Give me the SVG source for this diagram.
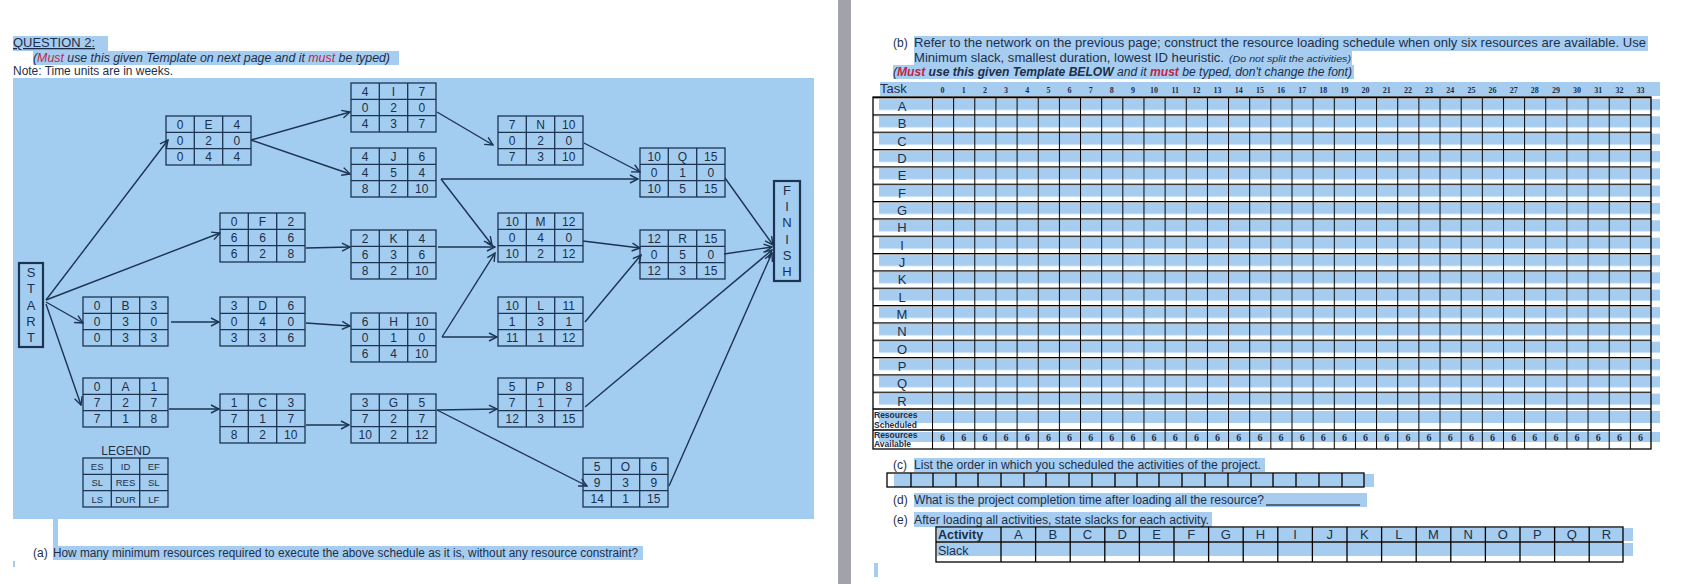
<svg xmlns="http://www.w3.org/2000/svg" xmlns:xlink="http://www.w3.org/1999/xlink" width="1687" height="584" viewBox="0 0 1687 584">
<style>
.t{font-family:"Liberation Sans Narrow","Liberation Sans",Arial,sans-serif;fill:#1c2f4a}
.nv{font-family:"Liberation Sans Narrow","Liberation Sans",Arial,sans-serif;font-size:12px;fill:#1c2f4a;text-anchor:middle}
.cell{fill:none;stroke:#1c3352;stroke-width:1.3}
.ar{fill:none;stroke:#1c3352;stroke-width:1.4;marker-end:url(#ah)}
.hl{fill:#a6cdf0}
.lab{font-family:"Liberation Sans Narrow","Liberation Sans",Arial,sans-serif;font-size:13px;fill:#1c2f4a;text-anchor:middle}
.hn{font-family:"Liberation Serif",serif;font-size:8px;font-weight:bold;fill:#1c2f4a;text-anchor:middle}
.gl{stroke:#000;stroke-width:1.3;fill:none}
</style>
<defs>
<marker id="ah" markerWidth="10" markerHeight="10" refX="9" refY="5" orient="auto" markerUnits="userSpaceOnUse">
<path d="M1,1 L9,5 L1,9" fill="none" stroke="#1c3352" stroke-width="1.4"/>
</marker>
<g id="box"><rect class="cell" x="0" y="0" width="85" height="49"/><path class="cell" d="M28.3,0V49M56.7,0V49M0,16.3H85M0,32.7H85"/></g>
<pattern id="rowp" patternUnits="userSpaceOnUse" x="873" y="97" width="30" height="17.333"><rect x="0" y="2" width="30" height="11" fill="#a6cdf0"/></pattern>
<pattern id="hp" patternUnits="userSpaceOnUse" x="873" y="97" width="30" height="17.333"><rect x="0" y="0" width="30" height="1.3" fill="#000"/></pattern>
<pattern id="vp" patternUnits="userSpaceOnUse" x="932" y="97" width="21.147" height="30"><rect x="0" y="0" width="1" height="30" fill="#000"/></pattern>
</defs>
<rect width="1687" height="584" fill="#fff"/>
<!-- left page -->
<rect x="13" y="78" width="801" height="441" fill="#a3cdf0"/>
<rect x="53" y="519" width="5" height="28" fill="#a3cdf0"/>
<rect x="13" y="561" width="2" height="6" fill="#a3cdf0"/>
<rect class="hl" x="13" y="36" width="95" height="15"/>
<rect class="hl" x="33" y="51" width="366" height="14"/>
<text class="t" x="13" y="47" font-size="13" textLength="82" lengthAdjust="spacingAndGlyphs" text-decoration="underline">QUESTION 2:</text>
<text class="t" x="33" y="62" font-size="12" font-style="italic" textLength="357" lengthAdjust="spacingAndGlyphs">(<tspan fill="#c0264a">Must</tspan> use this given Template on next page and it <tspan fill="#c0264a">must</tspan> be typed)</text>
<text class="t" x="13" y="75" font-size="12" textLength="160" lengthAdjust="spacingAndGlyphs">Note: Time units are in weeks.</text>
<rect class="hl" x="53" y="546" width="590" height="14"/>
<text class="t" x="33" y="557" font-size="12">(a)</text>
<text class="t" x="53" y="557" font-size="12" textLength="585" lengthAdjust="spacingAndGlyphs">How many minimum resources required to execute the above schedule as it is, without any resource constraint?</text>

<g id="start"><rect x="19" y="263" width="24" height="84" fill="none" stroke="#1c3352" stroke-width="2.2"/>
<text class="lab" x="31"><tspan x="31" y="277">S</tspan><tspan x="31" y="293">T</tspan><tspan x="31" y="310">A</tspan><tspan x="31" y="326">R</tspan><tspan x="31" y="342">T</tspan></text></g>
<g id="finish"><rect x="774" y="181" width="26" height="100" fill="none" stroke="#1c3352" stroke-width="2.2"/>
<text class="lab" x="787"><tspan x="787" y="195">F</tspan><tspan x="787" y="211">I</tspan><tspan x="787" y="227">N</tspan><tspan x="787" y="244">I</tspan><tspan x="787" y="260">S</tspan><tspan x="787" y="276">H</tspan></text></g>

<g id="connectors">
<path class="ar" d="M46,300 L168,140"/>
<path class="ar" d="M46,300 L220,233"/>
<path class="ar" d="M46,302 L83,323"/>
<path class="ar" d="M46,304 L81,405"/>
<path class="ar" d="M251,140 L350,112"/>
<path class="ar" d="M251,140 L350,174"/>
<path class="ar" d="M437,112 L493,145"/>
<path class="ar" d="M441,179 L638,179"/>
<path class="ar" d="M441,179 L492,245"/>
<path class="ar" d="M584,143 L640,172"/>
<path class="ar" d="M306,248 L350,247"/>
<path class="ar" d="M438,247 L495,247"/>
<path class="ar" d="M583,241 L640,248"/>
<path class="ar" d="M725,178 L773,245"/>
<path class="ar" d="M724,254 L772,247"/>
<path class="ar" d="M585,322 L641,255"/>
<path class="ar" d="M585,407 L772,250"/>
<path class="ar" d="M669,486 L772,253"/>
<path class="ar" d="M442,337 L495,253"/>
<path class="ar" d="M442,337 L497,337"/>
<path class="ar" d="M171,322 L219,322"/>
<path class="ar" d="M306,323 L350,326"/>
<path class="ar" d="M169,409 L219,409"/>
<path class="ar" d="M306,425 L349,425"/>
<path class="ar" d="M437,410 L497,409"/>
<path class="ar" d="M437,410 L587,486"/>
</g>

<g id="node-E" transform="translate(166,116)"><use href="#box"/><text class="nv"><tspan x="14.2" y="12.5">0</tspan><tspan x="42.5" y="12.5">E</tspan><tspan x="70.8" y="12.5">4</tspan><tspan x="14.2" y="28.8">0</tspan><tspan x="42.5" y="28.8">2</tspan><tspan x="70.8" y="28.8">0</tspan><tspan x="14.2" y="45.1">0</tspan><tspan x="42.5" y="45.1">4</tspan><tspan x="70.8" y="45.1">4</tspan></text></g>
<g id="node-I" transform="translate(351,83)"><use href="#box"/><text class="nv"><tspan x="14.2" y="12.5">4</tspan><tspan x="42.5" y="12.5">I</tspan><tspan x="70.8" y="12.5">7</tspan><tspan x="14.2" y="28.8">0</tspan><tspan x="42.5" y="28.8">2</tspan><tspan x="70.8" y="28.8">0</tspan><tspan x="14.2" y="45.1">4</tspan><tspan x="42.5" y="45.1">3</tspan><tspan x="70.8" y="45.1">7</tspan></text></g>
<g id="node-J" transform="translate(351,148)"><use href="#box"/><text class="nv"><tspan x="14.2" y="12.5">4</tspan><tspan x="42.5" y="12.5">J</tspan><tspan x="70.8" y="12.5">6</tspan><tspan x="14.2" y="28.8">4</tspan><tspan x="42.5" y="28.8">5</tspan><tspan x="70.8" y="28.8">4</tspan><tspan x="14.2" y="45.1">8</tspan><tspan x="42.5" y="45.1">2</tspan><tspan x="70.8" y="45.1">10</tspan></text></g>
<g id="node-N" transform="translate(498,116)"><use href="#box"/><text class="nv"><tspan x="14.2" y="12.5">7</tspan><tspan x="42.5" y="12.5">N</tspan><tspan x="70.8" y="12.5">10</tspan><tspan x="14.2" y="28.8">0</tspan><tspan x="42.5" y="28.8">2</tspan><tspan x="70.8" y="28.8">0</tspan><tspan x="14.2" y="45.1">7</tspan><tspan x="42.5" y="45.1">3</tspan><tspan x="70.8" y="45.1">10</tspan></text></g>
<g id="node-Q" transform="translate(640,148)"><use href="#box"/><text class="nv"><tspan x="14.2" y="12.5">10</tspan><tspan x="42.5" y="12.5">Q</tspan><tspan x="70.8" y="12.5">15</tspan><tspan x="14.2" y="28.8">0</tspan><tspan x="42.5" y="28.8">1</tspan><tspan x="70.8" y="28.8">0</tspan><tspan x="14.2" y="45.1">10</tspan><tspan x="42.5" y="45.1">5</tspan><tspan x="70.8" y="45.1">15</tspan></text></g>
<g id="node-F" transform="translate(220,213)"><use href="#box"/><text class="nv"><tspan x="14.2" y="12.5">0</tspan><tspan x="42.5" y="12.5">F</tspan><tspan x="70.8" y="12.5">2</tspan><tspan x="14.2" y="28.8">6</tspan><tspan x="42.5" y="28.8">6</tspan><tspan x="70.8" y="28.8">6</tspan><tspan x="14.2" y="45.1">6</tspan><tspan x="42.5" y="45.1">2</tspan><tspan x="70.8" y="45.1">8</tspan></text></g>
<g id="node-K" transform="translate(351,230)"><use href="#box"/><text class="nv"><tspan x="14.2" y="12.5">2</tspan><tspan x="42.5" y="12.5">K</tspan><tspan x="70.8" y="12.5">4</tspan><tspan x="14.2" y="28.8">6</tspan><tspan x="42.5" y="28.8">3</tspan><tspan x="70.8" y="28.8">6</tspan><tspan x="14.2" y="45.1">8</tspan><tspan x="42.5" y="45.1">2</tspan><tspan x="70.8" y="45.1">10</tspan></text></g>
<g id="node-M" transform="translate(498,213)"><use href="#box"/><text class="nv"><tspan x="14.2" y="12.5">10</tspan><tspan x="42.5" y="12.5">M</tspan><tspan x="70.8" y="12.5">12</tspan><tspan x="14.2" y="28.8">0</tspan><tspan x="42.5" y="28.8">4</tspan><tspan x="70.8" y="28.8">0</tspan><tspan x="14.2" y="45.1">10</tspan><tspan x="42.5" y="45.1">2</tspan><tspan x="70.8" y="45.1">12</tspan></text></g>
<g id="node-R" transform="translate(640,230)"><use href="#box"/><text class="nv"><tspan x="14.2" y="12.5">12</tspan><tspan x="42.5" y="12.5">R</tspan><tspan x="70.8" y="12.5">15</tspan><tspan x="14.2" y="28.8">0</tspan><tspan x="42.5" y="28.8">5</tspan><tspan x="70.8" y="28.8">0</tspan><tspan x="14.2" y="45.1">12</tspan><tspan x="42.5" y="45.1">3</tspan><tspan x="70.8" y="45.1">15</tspan></text></g>
<g id="node-B" transform="translate(83,297)"><use href="#box"/><text class="nv"><tspan x="14.2" y="12.5">0</tspan><tspan x="42.5" y="12.5">B</tspan><tspan x="70.8" y="12.5">3</tspan><tspan x="14.2" y="28.8">0</tspan><tspan x="42.5" y="28.8">3</tspan><tspan x="70.8" y="28.8">0</tspan><tspan x="14.2" y="45.1">0</tspan><tspan x="42.5" y="45.1">3</tspan><tspan x="70.8" y="45.1">3</tspan></text></g>
<g id="node-D" transform="translate(220,297)"><use href="#box"/><text class="nv"><tspan x="14.2" y="12.5">3</tspan><tspan x="42.5" y="12.5">D</tspan><tspan x="70.8" y="12.5">6</tspan><tspan x="14.2" y="28.8">0</tspan><tspan x="42.5" y="28.8">4</tspan><tspan x="70.8" y="28.8">0</tspan><tspan x="14.2" y="45.1">3</tspan><tspan x="42.5" y="45.1">3</tspan><tspan x="70.8" y="45.1">6</tspan></text></g>
<g id="node-H" transform="translate(351,313)"><use href="#box"/><text class="nv"><tspan x="14.2" y="12.5">6</tspan><tspan x="42.5" y="12.5">H</tspan><tspan x="70.8" y="12.5">10</tspan><tspan x="14.2" y="28.8">0</tspan><tspan x="42.5" y="28.8">1</tspan><tspan x="70.8" y="28.8">0</tspan><tspan x="14.2" y="45.1">6</tspan><tspan x="42.5" y="45.1">4</tspan><tspan x="70.8" y="45.1">10</tspan></text></g>
<g id="node-L" transform="translate(498,297)"><use href="#box"/><text class="nv"><tspan x="14.2" y="12.5">10</tspan><tspan x="42.5" y="12.5">L</tspan><tspan x="70.8" y="12.5">11</tspan><tspan x="14.2" y="28.8">1</tspan><tspan x="42.5" y="28.8">3</tspan><tspan x="70.8" y="28.8">1</tspan><tspan x="14.2" y="45.1">11</tspan><tspan x="42.5" y="45.1">1</tspan><tspan x="70.8" y="45.1">12</tspan></text></g>
<g id="node-A" transform="translate(83,378)"><use href="#box"/><text class="nv"><tspan x="14.2" y="12.5">0</tspan><tspan x="42.5" y="12.5">A</tspan><tspan x="70.8" y="12.5">1</tspan><tspan x="14.2" y="28.8">7</tspan><tspan x="42.5" y="28.8">2</tspan><tspan x="70.8" y="28.8">7</tspan><tspan x="14.2" y="45.1">7</tspan><tspan x="42.5" y="45.1">1</tspan><tspan x="70.8" y="45.1">8</tspan></text></g>
<g id="node-C" transform="translate(220,394)"><use href="#box"/><text class="nv"><tspan x="14.2" y="12.5">1</tspan><tspan x="42.5" y="12.5">C</tspan><tspan x="70.8" y="12.5">3</tspan><tspan x="14.2" y="28.8">7</tspan><tspan x="42.5" y="28.8">1</tspan><tspan x="70.8" y="28.8">7</tspan><tspan x="14.2" y="45.1">8</tspan><tspan x="42.5" y="45.1">2</tspan><tspan x="70.8" y="45.1">10</tspan></text></g>
<g id="node-G" transform="translate(351,394)"><use href="#box"/><text class="nv"><tspan x="14.2" y="12.5">3</tspan><tspan x="42.5" y="12.5">G</tspan><tspan x="70.8" y="12.5">5</tspan><tspan x="14.2" y="28.8">7</tspan><tspan x="42.5" y="28.8">2</tspan><tspan x="70.8" y="28.8">7</tspan><tspan x="14.2" y="45.1">10</tspan><tspan x="42.5" y="45.1">2</tspan><tspan x="70.8" y="45.1">12</tspan></text></g>
<g id="node-P" transform="translate(498,378)"><use href="#box"/><text class="nv"><tspan x="14.2" y="12.5">5</tspan><tspan x="42.5" y="12.5">P</tspan><tspan x="70.8" y="12.5">8</tspan><tspan x="14.2" y="28.8">7</tspan><tspan x="42.5" y="28.8">1</tspan><tspan x="70.8" y="28.8">7</tspan><tspan x="14.2" y="45.1">12</tspan><tspan x="42.5" y="45.1">3</tspan><tspan x="70.8" y="45.1">15</tspan></text></g>
<g id="node-O" transform="translate(583,458)"><use href="#box"/><text class="nv"><tspan x="14.2" y="12.5">5</tspan><tspan x="42.5" y="12.5">O</tspan><tspan x="70.8" y="12.5">6</tspan><tspan x="14.2" y="28.8">9</tspan><tspan x="42.5" y="28.8">3</tspan><tspan x="70.8" y="28.8">9</tspan><tspan x="14.2" y="45.1">14</tspan><tspan x="42.5" y="45.1">1</tspan><tspan x="70.8" y="45.1">15</tspan></text></g>
<g id="legend"><text class="t" x="126" y="455" font-size="12" text-anchor="middle">LEGEND</text>
<g transform="translate(83,458)"><use href="#box"/><text class="nv" style="font-size:9.5px"><tspan x="14.2" y="12">ES</tspan><tspan x="42.5" y="12">ID</tspan><tspan x="70.8" y="12">EF</tspan><tspan x="14.2" y="28.3">SL</tspan><tspan x="42.5" y="28.3">RES</tspan><tspan x="70.8" y="28.3">SL</tspan><tspan x="14.2" y="44.6">LS</tspan><tspan x="42.5" y="44.6">DUR</tspan><tspan x="70.8" y="44.6">LF</tspan></text></g></g>

<!-- divider -->
<rect x="838" y="0" width="13" height="584" fill="#a2a2aa"/>

<!-- right page -->
<rect class="hl" x="914" y="36" width="734" height="15"/>
<rect class="hl" x="914" y="51" width="438" height="14"/>
<rect class="hl" x="893" y="65" width="461" height="14"/>
<text class="t" x="893" y="47" font-size="12">(b)</text>
<text class="t" x="914" y="47" font-size="13" textLength="732" lengthAdjust="spacingAndGlyphs">Refer to the network on the previous page; construct the resource loading schedule when only six resources are available. Use</text>
<text class="t" x="914" y="62" font-size="13" textLength="310" lengthAdjust="spacingAndGlyphs">Minimum slack, smallest duration, lowest ID heuristic.</text>
<text class="t" x="1229" y="62" font-size="9.5" font-style="italic" textLength="122" lengthAdjust="spacingAndGlyphs">(Do not split the activities)</text>
<text class="t" x="893" y="76" font-size="12" font-style="italic" textLength="459" lengthAdjust="spacingAndGlyphs">(<tspan fill="#c0264a" font-weight="bold">Must</tspan> <tspan font-weight="bold">use this given Template BELOW</tspan> and it <tspan fill="#c0264a" font-weight="bold">must</tspan> be typed, don't change the font)</text>

<rect class="hl" x="880" y="82" width="780" height="14"/>
<text class="t" x="880" y="93" font-size="13">Task</text>
<g id="hdr">
<text class="hn" x="942.6" y="93">0</text><text class="hn" x="963.7" y="93">1</text><text class="hn" x="984.9" y="93">2</text><text class="hn" x="1006.0" y="93">3</text><text class="hn" x="1027.2" y="93">4</text><text class="hn" x="1048.4" y="93">5</text><text class="hn" x="1069.5" y="93">6</text><text class="hn" x="1090.7" y="93">7</text><text class="hn" x="1111.8" y="93">8</text><text class="hn" x="1133.0" y="93">9</text><text class="hn" x="1154.1" y="93">10</text><text class="hn" x="1175.3" y="93">11</text><text class="hn" x="1196.4" y="93">12</text><text class="hn" x="1217.6" y="93">13</text><text class="hn" x="1238.7" y="93">14</text><text class="hn" x="1259.9" y="93">15</text><text class="hn" x="1281.0" y="93">16</text><text class="hn" x="1302.2" y="93">17</text><text class="hn" x="1323.3" y="93">18</text><text class="hn" x="1344.5" y="93">19</text><text class="hn" x="1365.6" y="93">20</text><text class="hn" x="1386.8" y="93">21</text><text class="hn" x="1407.9" y="93">22</text><text class="hn" x="1429.1" y="93">23</text><text class="hn" x="1450.2" y="93">24</text><text class="hn" x="1471.4" y="93">25</text><text class="hn" x="1492.5" y="93">26</text><text class="hn" x="1513.7" y="93">27</text><text class="hn" x="1534.8" y="93">28</text><text class="hn" x="1556.0" y="93">29</text><text class="hn" x="1577.1" y="93">30</text><text class="hn" x="1598.3" y="93">31</text><text class="hn" x="1619.4" y="93">32</text><text class="hn" x="1640.6" y="93">33</text>
</g>
<g id="schedule">
<rect x="879" y="97" width="781" height="312" fill="url(#rowp)"/>
<rect class="hl" x="879" y="411" width="781" height="12"/>
<rect class="hl" x="879" y="432" width="781" height="10"/>
<rect x="873" y="97" width="778" height="312" fill="url(#hp)"/>
<rect x="932" y="97" width="719" height="352" fill="url(#vp)"/>
<path class="gl" d="M873,409H1651M873,430H1651"/>
<rect class="gl" x="873" y="97" width="778" height="352"/>
<text class="lab" font-size="13"><tspan x="902" y="111">A</tspan><tspan x="902" y="128">B</tspan><tspan x="902" y="146">C</tspan><tspan x="902" y="163">D</tspan><tspan x="902" y="180">E</tspan><tspan x="902" y="198">F</tspan><tspan x="902" y="215">G</tspan><tspan x="902" y="232">H</tspan><tspan x="902" y="250">I</tspan><tspan x="902" y="267">J</tspan><tspan x="902" y="284">K</tspan><tspan x="902" y="302">L</tspan><tspan x="902" y="319">M</tspan><tspan x="902" y="336">N</tspan><tspan x="902" y="354">O</tspan><tspan x="902" y="371">P</tspan><tspan x="902" y="388">Q</tspan><tspan x="902" y="406">R</tspan></text>
<text class="t" font-size="8.5" font-weight="bold"><tspan x="874" y="418">Resources</tspan><tspan x="874" y="428">Scheduled</tspan><tspan x="874" y="438">Resources</tspan><tspan x="874" y="447">Available</tspan></text>
<text class="hn" style="font-size:10px" y="441" x="942.6 963.7 984.9 1006.0 1027.2 1048.4 1069.5 1090.7 1111.8 1133.0 1154.1 1175.3 1196.4 1217.6 1238.7 1259.9 1281.0 1302.2 1323.3 1344.5 1365.6 1386.8 1407.9 1429.1 1450.2 1471.4 1492.5 1513.7 1534.8 1556.0 1577.1 1598.3 1619.4 1640.6">6666666666666666666666666666666666</text>
</g>

<rect class="hl" x="914" y="458" width="351" height="14"/>
<text class="t" x="893" y="469" font-size="12">(c)</text>
<text class="t" x="914" y="469" font-size="12" textLength="347" lengthAdjust="spacingAndGlyphs">List the order in which you scheduled the activities of the project.</text>
<g id="order">
<rect class="hl" x="894" y="474" width="480" height="13"/>
<rect class="gl" x="887" y="473" width="477" height="14"/>
<path class="gl" d="M911,473V487M933,473V487M956,473V487M978,473V487M1001,473V487M1024,473V487M1046,473V487M1069,473V487M1092,473V487M1115,473V487M1137,473V487M1159,473V487M1182,473V487M1205,473V487M1228,473V487M1251,473V487M1273,473V487M1296,473V487M1319,473V487M1342,473V487"/>
</g>
<rect class="hl" x="914" y="493" width="453" height="14"/>
<text class="t" x="893" y="504" font-size="12">(d)</text>
<text class="t" x="914" y="504" font-size="12" textLength="350" lengthAdjust="spacingAndGlyphs">What is the project completion time after loading all the resource?</text>
<path d="M1266,505H1360" stroke="#000" stroke-width="1"/>
<rect class="hl" x="914" y="512" width="298" height="15"/>
<text class="t" x="893" y="524" font-size="12">(e)</text>
<text class="t" x="914" y="524" font-size="12" textLength="295" lengthAdjust="spacingAndGlyphs">After loading all activities, state slacks for each activity.</text>
<g id="slack">
<rect class="hl" x="937" y="528" width="696" height="13"/>
<rect class="hl" x="937" y="543" width="696" height="13"/>
<rect class="gl" x="936" y="527" width="687" height="35"/>
<path class="gl" d="M936,542H1623M1001,527V562M1035.6,527V562M1070.2,527V562M1104.8,527V562M1139.4,527V562M1174,527V562M1208.6,527V562M1243.2,527V562M1277.8,527V562M1312.4,527V562M1347,527V562M1381.6,527V562M1416.2,527V562M1450.8,527V562M1485.4,527V562M1520,527V562M1554.6,527V562M1589.2,527V562"/>
<text class="t" x="938" y="539" font-size="12.5" font-weight="bold">Activity</text>
<text class="t" x="938" y="555" font-size="12.5">Slack</text>
<text class="lab" font-size="12.5" y="539"><tspan x="1018.3">A</tspan><tspan x="1052.9">B</tspan><tspan x="1087.5">C</tspan><tspan x="1122.1">D</tspan><tspan x="1156.7">E</tspan><tspan x="1191.3">F</tspan><tspan x="1225.9">G</tspan><tspan x="1260.5">H</tspan><tspan x="1295.1">I</tspan><tspan x="1329.7">J</tspan><tspan x="1364.3">K</tspan><tspan x="1398.9">L</tspan><tspan x="1433.5">M</tspan><tspan x="1468.1">N</tspan><tspan x="1502.7">O</tspan><tspan x="1537.3">P</tspan><tspan x="1571.9">Q</tspan><tspan x="1606.5">R</tspan></text>
</g>
<rect class="hl" x="874" y="563" width="4" height="14"/>
</svg>
